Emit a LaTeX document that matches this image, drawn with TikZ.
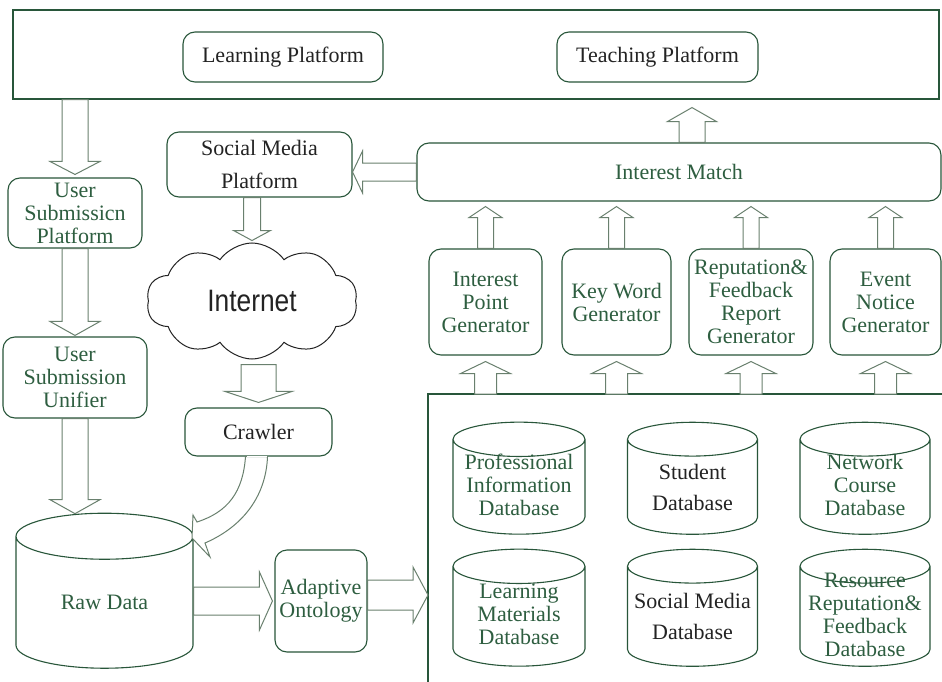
\documentclass[tikz,border=0pt]{standalone}
\usepackage{fontspec}
\setmainfont{Liberation Serif}
\newfontfamily\cloudfont{Liberation Sans}[FakeStretch=0.85]
\usetikzlibrary{calc,shapes.geometric,shapes.symbols}

\definecolor{linegreen}{RGB}{40,86,58}
\definecolor{textgreen}{RGB}{46,94,64}
\definecolor{arrowgray}{RGB}{105,128,110}
\definecolor{textdark}{RGB}{35,35,35}

\tikzset{
  every node/.style={font=\fontsize{22}{23}\selectfont},
  rbox/.style={draw=linegreen, line width=1.1pt, rounded corners=12pt, align=center, inner sep=0pt, text=textgreen},
  dbcyl/.style={cylinder, shape border rotate=90, aspect=0.26, draw=linegreen, line width=1.1pt, inner sep=0pt, text width=#1},
  dbcyl/.default=130pt,
  dbtext/.style={align=center, inner sep=0pt, text=textgreen, yshift=2pt},
  harrow/.style={draw=arrowgray, line width=1pt, fill=white, line join=miter},
}

% hollow block arrow: start, tip, shaft half width, head half width, head length
\newcommand{\blockarrow}[5]{%
  \path (#1) coordinate (ba-s) (#2) coordinate (ba-e);
  \path ($(ba-e)!#5!(ba-s)$) coordinate (ba-c);
  \draw[harrow] ($(ba-s)!#3!90:(ba-e)$) -- ($(ba-c)!#3!90:(ba-e)$) -- ($(ba-c)!#4!90:(ba-e)$)
    -- (ba-e) -- ($(ba-c)!#4!-90:(ba-e)$) -- ($(ba-c)!#3!-90:(ba-e)$) -- ($(ba-s)!#3!-90:(ba-e)$) -- cycle;
}

\begin{document}
\begin{tikzpicture}[x=1pt, y=-1pt]
  \useasboundingbox[fill=white] (0,0) rectangle (942,682);

  % platforms on top
  \node[draw=linegreen, line width=1.1pt, minimum width=926pt, minimum height=89pt, inner sep=0pt] (platforms) at (476,54.5) {};
  \node[rbox, text=textdark, minimum width=200pt, minimum height=50pt] (lp) at (283,57) {Learning Platform};
  \node[rbox, text=textdark, minimum width=201pt, minimum height=50pt] (tp) at (657.5,57) {Teaching Platform};

  % left column
  \node[rbox, minimum width=134pt, minimum height=70pt] (usp) at (75,213) {User\\Submissicn\\Platform};
  \node[rbox, minimum width=144pt, minimum height=81pt] (usu) at (75,377.5) {User\\Submission\\Unifier};
  \node[dbcyl=177pt, minimum height=155pt, label={[dbtext, yshift=-2pt]center:Raw Data}] (raw) at (104.5,602.5) {};

  % middle column
  \node[rbox, text=textdark, minimum width=185pt, minimum height=65pt] (smp) at (259.5,164.5) {Social Media\\[10pt]Platform};
  \node[cloud, cloud puffs=10, cloud puff arc=110, aspect=1.8, draw=textdark, line width=1pt, minimum width=211pt, minimum height=116pt, inner sep=0pt, text=textdark, font=\cloudfont\fontsize{31}{31}\selectfont] (cloud) at (252,301) {Internet};
  \node[rbox, text=textdark, minimum width=147pt, minimum height=48pt] (crawler) at (258.5,432) {Crawler};
  \node[rbox, minimum width=92pt, minimum height=102pt] (ao) at (321,601) {Adaptive\\Ontology};

  % right side
  \node[rbox, minimum width=524pt, minimum height=58pt] (im) at (679,172) {Interest Match};
  \node[rbox, minimum width=113pt, minimum height=106pt] (ipg) at (485.5,302) {Interest\\Point\\Generator};
  \node[rbox, minimum width=109pt, minimum height=106pt] (kwg) at (616.5,302) {Key Word\\Generator};
  \node[rbox, minimum width=124pt, minimum height=106pt] (rfg) at (751,302) {Reputation\&\\Feedback\\Report\\Generator};
  \node[rbox, minimum width=111pt, minimum height=106pt] (eng) at (885.5,302) {Event\\Notice\\Generator};

  % databases
  \draw[linegreen, line width=1.1pt] (942,394) -- (428,394) coordinate (dbtl) -- (428,682);
  \node[dbcyl=132pt, minimum height=112pt, label={[dbtext]center:Professional\\Information\\Database}] (pid) at (519,487) {};
  \node[dbcyl, minimum height=112pt, label={[dbtext, text=textdark, yshift=-2pt]center:Student\\[8pt]Database}] (sd) at (692.5,487) {};
  \node[dbcyl, minimum height=112pt, label={[dbtext]center:Network\\Course\\Database}] (ncd) at (865,487) {};
  \node[dbcyl=132pt, minimum height=117pt, label={[dbtext]center:Learning\\Materials\\Database}] (lmd) at (519,616.5) {};
  \node[dbcyl, minimum height=117pt, label={[dbtext, text=textdark, yshift=-2pt]center:Social Media\\[8pt]Database}] (smd) at (692.5,616.5) {};
  \node[dbcyl, minimum height=117pt, label={[dbtext]center:Resource\\Reputation\&\\Feedback\\Database}] (rrd) at (865,616.5) {};

  % block arrows
  \blockarrow{platforms.south -| usp.north}{$(usp.north)+(0,-3)$}{13pt}{25pt}{13pt}
  \blockarrow{usp.south}{$(usu.north)+(0,-1)$}{13pt}{25pt}{14pt}
  \blockarrow{usu.south}{$(usu.south |- raw.north)+(0,1)$}{13pt}{25pt}{14pt}
  \blockarrow{im.west}{smp.east |- im.west}{9pt}{21pt}{10pt}
  \blockarrow{cloud.north |- smp.south}{$(cloud.north)+(0,-2)$}{8.5pt}{18.5pt}{10pt}
  \blockarrow{$(cloud.south -| crawler.north)+(0,5)$}{$(crawler.north)+(0,-5)$}{17.5pt}{33.5pt}{11pt}
  \blockarrow{raw.east |- ao.west}{$(ao.west)+(-2,0)$}{14pt}{29pt}{13pt}
  \blockarrow{$(ao.east)+(0,-6)$}{dbtl |- {$(ao.east)+(0,-6)$}}{15pt}{28pt}{15pt}
  \blockarrow{$(im.north)+(13,0)$}{$(platforms.south -| im.north)+(13,8)$}{13pt}{24.5pt}{14pt}
  \foreach \g in {ipg,kwg,rfg,eng}{
    \blockarrow{\g.north}{$(im.south -| \g.north)+(0,5)$}{8pt}{16.5pt}{11pt}
    \blockarrow{dbtl -| \g.south}{$(\g.south)+(0,6)$}{11pt}{25pt}{12pt}
  }

  % curved arrow from the crawler
  \draw[harrow] ($(crawler.south)+(-13,0)$) .. controls (243,492) and (228,512) .. (197,522)
    -- (193,515) -- (192,538) -- (210,557) -- (205,543)
    .. controls (242,527) and (266,497) .. ($(crawler.south)+(9,0)$) -- cycle;
  \draw[white, line width=1.5pt] ($(crawler.south)+(-12,0)$) -- ($(crawler.south)+(8,0)$);
\end{tikzpicture}
\end{document}
